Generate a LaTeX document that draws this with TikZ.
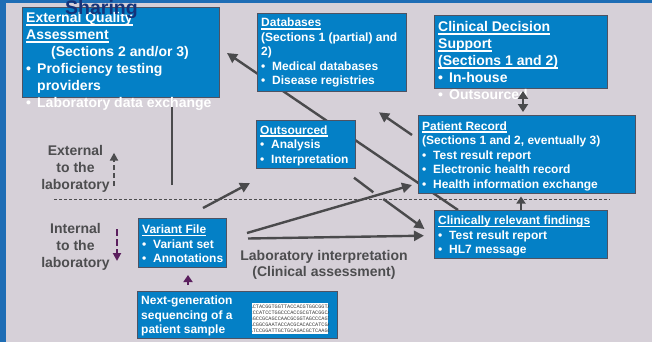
\documentclass[tikz,border=0pt]{standalone}
\usepackage{fontspec}
\setmainfont{Liberation Sans}
\newfontfamily\seqfont{Liberation Mono}
\usetikzlibrary{arrows.meta}

\definecolor{pagebg}{HTML}{D6D0D8}
\definecolor{framebl}{HTML}{1E6DB5}
\definecolor{boxblue}{HTML}{0480C6}
\definecolor{boxedge}{HTML}{4E5262}
\definecolor{wire}{HTML}{4A4A4C}
\definecolor{lblgray}{HTML}{4D4D4F}
\definecolor{plum}{HTML}{5B1F5E}
\definecolor{navy}{HTML}{15337A}
\definecolor{seqink}{HTML}{3A3A3A}

\pgfdeclarelayer{back}
\pgfdeclarelayer{wires}
\pgfsetlayers{back,wires,main}

% underlined heading line, fixed offset below the baseline
\newsavebox\ulinebox
\newcommand\uln[1]{\sbox\ulinebox{#1}\rlap{\rule[-2.6pt]{\wd\ulinebox}{1.3pt}}\usebox\ulinebox}
\newcommand\bul{\makebox[11pt][l]{•}}
\newcommand\tline[1]{\hbox{#1}}
\newcommand\ctline[1]{\hbox to 180pt{\hss#1\hss}}

\tikzset{
  panel/.style={draw=boxedge, line width=0.9pt, fill=boxblue, anchor=north west,
    inner sep=0pt, outer sep=0pt},
  paneltext/.style={anchor=base west, inner sep=0pt, text=white},
  bigtype/.style={font=\fontsize{14}{17}\selectfont\bfseries},
  smalltype/.style={font=\fontsize{12}{14.5}\selectfont\bfseries},
  sidelabel/.style={anchor=base, inner sep=0pt, text=lblgray},
  wireline/.style={draw=wire, line width=2.4pt},
  wirearrow/.style={wireline, -{Triangle[length=10pt,width=10pt]}},
  twoway/.style={wireline, {Triangle[length=8pt,width=10pt]}-{Triangle[length=8pt,width=10pt]}},
  shortup/.style={draw=wire, line width=2.2pt, -{Triangle[length=7pt,width=9pt]}},
  plumup/.style={draw=plum, line width=2.4pt, -{Triangle[length=7pt,width=9pt]}},
  grayhint/.style={draw=lblgray, line width=2.4pt, dash pattern=on 5pt off 3pt,
    -{Triangle[length=8pt,width=8pt]}},
  plumhint/.style={draw=plum, line width=2.4pt, dash pattern=on 7pt off 3pt,
    -{Triangle[length=8pt,width=8pt]}},
  boundary/.style={draw=lblgray, line width=0.9pt, dash pattern=on 3pt off 2pt},
}

\begin{document}
\begin{tikzpicture}[x=1pt, y=-1pt]
\useasboundingbox (0,0) rectangle (652,342);

\begin{pgfonlayer}{back}
  \fill[pagebg] (0,0) rectangle (652,342);
  \fill[framebl] (0,0) rectangle (6,342);
  \fill[framebl] (0,0) rectangle (652,3);
\end{pgfonlayer}

% ---------- panels ----------
\node[panel, minimum width=197pt, minimum height=90pt] (eqa) at (22,7) {};
\node[panel, minimum width=149pt, minimum height=78pt] (db)  at (257,13) {};
\node[panel, minimum width=173pt, minimum height=73pt] (cds) at (434,15) {};
\node[panel, minimum width=217pt, minimum height=78pt] (pr)  at (418,115) {};
\node[panel, minimum width=173pt, minimum height=48pt] (crf) at (434,210) {};
\node[panel, minimum width=99pt,  minimum height=48pt] (out) at (256,120) {};
\node[panel, minimum width=88pt,  minimum height=49pt] (vf)  at (138,218) {};
\node[panel, minimum width=200pt, minimum height=47pt] (ngs) at (137,291) {};
\node[fill=white, anchor=north west, inner sep=0pt, minimum width=76pt,
      minimum height=31pt] (seq) at (252,303) {};

% ---------- panel texts ----------
\node[paneltext, bigtype] (eqa-t) at (26,23) {\vtop{%
  \tline{\uln{External Quality}}
  \tline{\uln{Assessment}}
  \tline{\hspace*{25pt}(Sections 2 and/or 3)}
  \tline{\bul Proficiency testing}
  \tline{\hspace*{11pt}providers}
  \tline{\bul Laboratory data exchange}}};

\node[paneltext, smalltype] (db-t) at (261,27) {\vtop{%
  \tline{\uln{Databases}}
  \tline{(Sections 1 (partial) and}
  \tline{2)}
  \tline{\bul Medical databases}
  \tline{\bul Disease registries}}};

\node[paneltext, bigtype] (cds-t) at (438,32) {\vtop{%
  \tline{\uln{Clinical Decision}}
  \tline{\uln{Support}}
  \tline{\uln{(Sections 1 and 2)}}
  \tline{\bul In-house}
  \tline{\bul Outsourced}}};

\node[paneltext, smalltype] (pr-t) at (422,130) {\vtop{%
  \tline{\uln{Patient Record}}
  \tline{(Sections 1 and 2, eventually 3)}
  \tline{\bul Test result report}
  \tline{\bul Electronic health record}
  \tline{\bul Health information exchange}}};

\node[paneltext, smalltype] (crf-t) at (438,224.5) {\vtop{%
  \tline{\uln{Clinically relevant findings}}
  \tline{\bul Test result report}
  \tline{\bul HL7 message}}};

\node[paneltext, smalltype] (out-t) at (260,134) {\vtop{%
  \tline{\uln{Outsourced}}
  \tline{\bul Analysis}
  \tline{\bul Interpretation}}};

\node[paneltext, smalltype] (vf-t) at (142,233.5) {\vtop{%
  \tline{\uln{Variant File}}
  \tline{\bul Variant set}
  \tline{\bul Annotations}}};

\node[paneltext, smalltype] (ngs-t) at (141,304.5) {\vtop{%
  \tline{Next-generation}
  \tline{sequencing of a}
  \tline{patient sample}}};

% raw reads shown in the white inset
\begin{scope}
  \clip (seq.north west) rectangle (seq.south east);
  \node[anchor=base west, inner sep=0pt, text=seqink,
        font=\seqfont\fontsize{5.2}{6.1}\selectfont] (seq-t) at (249.5,308.5) {\vtop{%
    \tline{ACTACGGTGGTTACCACGTGGCGGTA}
    \tline{CCCATCCTGGCCCACCGCGTACGGCA}
    \tline{GGCCGCAGCCAACGCGGTAGCCCAGT}
    \tline{ACGGCGAATACCACGCACACCATCGA}
    \tline{ATCCGGATTGCTGCAGACGCTCAAGC}}};
\end{scope}

% ---------- free labels ----------
\node[anchor=base west, inner sep=0pt, text=navy,
      font=\fontsize{19.5}{20}\selectfont\bfseries] (sharing) at (65,14.5) {Sharing};

\node[sidelabel, bigtype] (ext) at (75.5,155) {\vtop{%
  \ctline{External}\ctline{to the}\ctline{laboratory}}};
\node[sidelabel, bigtype] (int) at (75.5,233) {\vtop{%
  \ctline{Internal}\ctline{to the}\ctline{laboratory}}};
\node[sidelabel, font=\fontsize{14}{16}\selectfont\bfseries] (interp) at (324,260) {\vtop{%
  \ctline{Laboratory interpretation}\ctline{(Clinical assessment)}}};

% ---------- connector end points ----------
\coordinate (hl-l) at (54,199.5);
\coordinate (hl-r) at (610,199.5);
\coordinate (v1)   at (172,185);
\coordinate (a2s)  at (203,208);
\coordinate (a2e)  at (250,183);
\coordinate (a3s)  at (247,233);
\coordinate (a3e)  at (412,185);
\coordinate (a4s)  at (248,238.5);
\coordinate (a4e)  at (424,235.7);
\coordinate (a5s)  at (354,177.7);
\coordinate (a5m)  at (373.3,192.3);
\coordinate (a5n)  at (383.3,199);
\coordinate (a5e)  at (424.5,229);
\coordinate (lt)   at (458,0);
\coordinate (la)   at (227,53);
\coordinate (a7s)  at (412,135);
\coordinate (a7e)  at (379,112.3);
\coordinate (dx)   at (523,0);
\coordinate (ux)   at (521,0);
\coordinate (px)   at (188,0);
\coordinate (gh-s) at (114,186);
\coordinate (gh-e) at (114,152.7);
\coordinate (ph-s) at (117,229);
\coordinate (ph-e) at (117,261);

% ---------- connectors ----------
\begin{pgfonlayer}{wires}
  \draw[boundary] (hl-l) -- (hl-r);
  \draw[wirearrow] (crf.north -| lt) -- (la);
  \draw[wireline] (v1) -- (v1 |- eqa.south);
  \draw[wirearrow] (a2s) -- (a2e);
  \draw[wirearrow] (a3s) -- (a3e);
  \draw[wirearrow] (a4s) -- (a4e);
  \draw[wireline] (a5s) -- (a5m);
  \draw[wirearrow] (a5n) -- (a5e);
  \draw[wirearrow] (a7s) -- (a7e);
  \draw[shortup, shorten >=3.5pt] (ux |- crf.north) -- (ux |- pr.south);
  \draw[plumup, shorten <=6pt, shorten >=8pt] (px |- ngs.north) -- (px |- vf.south);
  \draw[grayhint] (gh-s) -- (gh-e);
  \draw[plumhint] (ph-s) -- (ph-e);
\end{pgfonlayer}

\draw[twoway, shorten <=3pt, shorten >=3pt] (dx |- cds.south) -- (dx |- pr.north);

\end{tikzpicture}
\end{document}
